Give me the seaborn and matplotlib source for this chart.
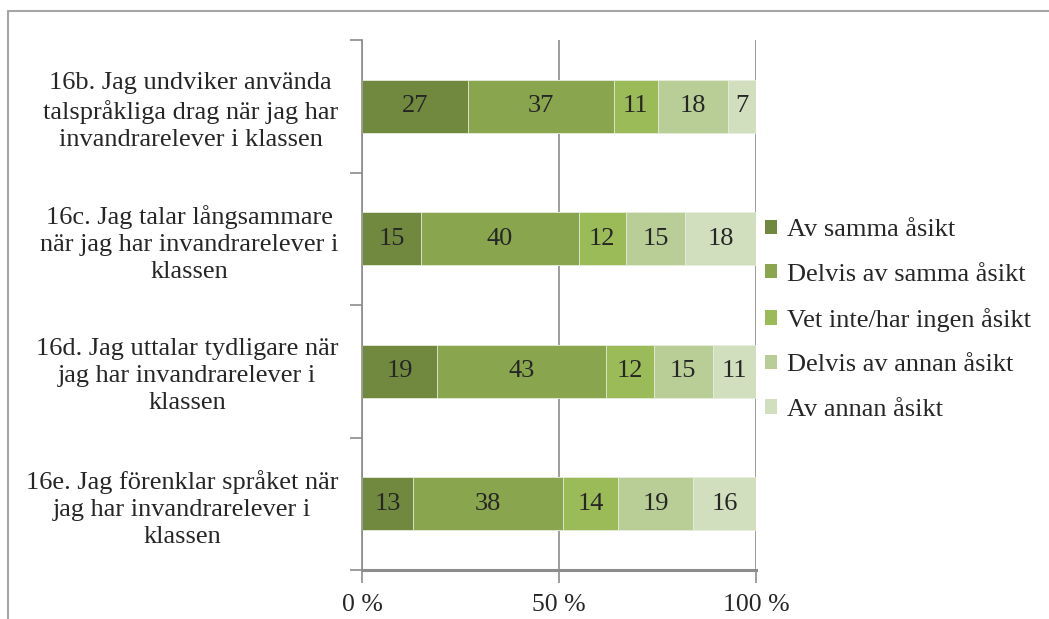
import numpy as np
import pandas as pd
import matplotlib
matplotlib.use("Agg")
import matplotlib.pyplot as plt
import seaborn as sns
from matplotlib.lines import Line2D
from matplotlib.patches import Patch

# ==================================================
# DATA
# ==================================================

questions = [
    "16b. Jag undviker använda\ntalspråkliga drag när jag har\ninvandrarelever i klassen",
    "16c. Jag talar långsammare\nnär jag har invandrarelever i\nklassen",
    "16d. Jag uttalar tydligare när\njag har invandrarelever i\nklassen",
    "16e. Jag förenklar språket när\njag har invandrarelever i\nklassen",
]
answers = ["Av samma åsikt", "Delvis av samma åsikt", "Vet inte/har ingen åsikt",
           "Delvis av annan åsikt", "Av annan åsikt"]
av_samma = [27, 15, 19, 13]
delvis_samma = [37, 40, 43, 38]
vet_inte = [11, 12, 12, 14]
delvis_annan = [18, 15, 15, 19]
av_annan = [7, 18, 11, 16]
x_ticks = [0, 50, 100]
x_ticklabels = ["0 %", "50 %", "100 %"]

colors = ["#71893f", "#89a54e", "#9bbb59", "#b9cd96", "#d2dfbf"]

# ==================================================
# STYLE
# ==================================================

sns.set_style("white")
plt.rcParams["font.family"] = ["Liberation Serif", "DejaVu Serif"]
plt.rcParams["font.size"] = 19
plt.rcParams["text.color"] = "#262626"

df = pd.DataFrame({"question": questions, answers[0]: av_samma, answers[1]: delvis_samma,
                   answers[2]: vet_inte, answers[3]: delvis_annan, answers[4]: av_annan})
cum = df[answers].cumsum(axis=1)

fig = plt.figure(figsize=(10.49, 6.19), dpi=100)
ax = fig.add_axes([362 / 1049, 1 - 570 / 619, (756 - 362) / 1049, (570 - 40) / 619])

# stacked bars: draw cumulative totals from the back
for i in range(len(answers) - 1, -1, -1):
    sns.barplot(x=cum[answers[i]], y=df["question"], orient="h", color=colors[i],
                width=0.4, saturation=1, ax=ax, edgecolor="#e8eee0", linewidth=0.6)

# value labels
for i, a in enumerate(answers):
    for j in range(len(questions)):
        v = df[a][j]
        ax.text(cum[a][j] - v / 2, j, str(v), ha="center", va="center",
                fontsize=19, color="#262626")

# ==================================================
# AXES
# ==================================================

grey = "#8c8c8c"
ax.set_xlim(0, 100)
ax.set_ylim(3.5, -0.5)
ax.set_xticks(x_ticks)
ax.set_xticklabels(x_ticklabels, fontsize=18.5)
ax.set_xlabel("")
ax.set_ylabel("")
ax.xaxis.grid(True, color=grey, linewidth=1.2)
ax.set_axisbelow(True)
ax.tick_params(axis="x", direction="out", length=9, width=1.2, color=grey, pad=8, bottom=True)
ax.set_yticks(range(len(questions)))
ax.set_yticklabels(questions, multialignment="center", linespacing=1.3)
ax.set_yticks(np.arange(-0.5, len(questions), 1), minor=True)
ax.tick_params(axis="y", which="major", length=0, pad=17)
ax.tick_params(axis="y", which="minor", direction="out", length=9, width=1.2, color=grey, left=True)

for s in ["top", "right"]:
    ax.spines[s].set_visible(False)
ax.spines["left"].set_color(grey)
ax.spines["left"].set_linewidth(1.2)
ax.spines["bottom"].set_color(grey)
ax.spines["bottom"].set_linewidth(2.2)

handles = [Patch(facecolor=c, edgecolor="none") for c in colors]
fig.legend(handles, answers, loc="center left", bbox_to_anchor=(765 / 1049, 1 - 320 / 619),
           frameon=False, handlelength=0.45, handleheight=0.45, handletextpad=0.4,
           labelspacing=0.85, borderpad=0, borderaxespad=0, fontsize=19)

# outer chart border
fig.add_artist(Line2D([8 / 1049, 1.0], [1 - 11 / 619, 1 - 11 / 619], transform=fig.transFigure,
                      color="#a6a6a6", linewidth=1.5))
fig.add_artist(Line2D([8 / 1049, 8 / 1049], [0.0, 1 - 11 / 619], transform=fig.transFigure,
                      color="#a6a6a6", linewidth=1.5))

plt.savefig("out.png", dpi=100)
